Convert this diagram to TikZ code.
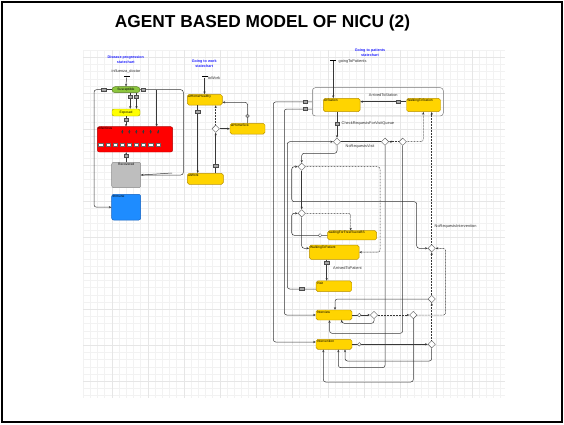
\documentclass[tikz,border=0pt]{standalone}
\usepackage{fontspec}
\setmainfont{Liberation Sans}
\usetikzlibrary{shapes.geometric,arrows.meta,calc}
\definecolor{styel}{HTML}{FFD400}
\definecolor{styelD}{HTML}{B89000}
\definecolor{stgreen}{HTML}{8CC63E}
\definecolor{stgreenD}{HTML}{557A1E}
\definecolor{stexp}{HTML}{FFFF00}
\definecolor{stexpD}{HTML}{A0A000}
\definecolor{stred}{HTML}{FF0000}
\definecolor{stredD}{HTML}{B00000}
\definecolor{stgray}{HTML}{BEBEBE}
\definecolor{stgrayD}{HTML}{8A8A8A}
\definecolor{stblue}{HTML}{1E8CFF}
\definecolor{stblueD}{HTML}{1060C0}
\definecolor{ttlblue}{HTML}{2222FF}
\definecolor{gmin}{HTML}{F2F2F2}
\definecolor{gmaj}{HTML}{E6E6E6}
\begin{document}
\begin{tikzpicture}[x=1pt,y=-1pt,
  st/.style={draw=styelD, fill=styel, rounded corners=1.8pt, line width=0.45pt, inner sep=0pt},
  lbl/.style={font=\fontsize{3.3}{3.6}\selectfont, inner sep=0.9pt},
  small/.style={font=\fontsize{3.9}{4.2}\selectfont, inner sep=0pt, text=black!80},
  ttl/.style={font=\bfseries\fontsize{3.7}{4.6}\selectfont, text=ttlblue, align=center, inner sep=0pt},
  tr/.style={draw=black!78, line width=0.5pt, rounded corners=2.5pt},
  arr/.style={-{Stealth[length=2.6pt,width=2.2pt]}},
  darr/.style={{Stealth[length=2.6pt,width=2.2pt]}-{Stealth[length=2.6pt,width=2.2pt]}},
  dots/.style={dash pattern=on 0.8pt off 0.7pt},
  br/.style={diamond, draw=black!65, fill=white, line width=0.4pt, minimum width=7.5pt, minimum height=7.5pt, inner sep=0pt},
  mk/.style={draw=black!70, fill=black!35, minimum width=4.2pt, minimum height=3.2pt, inner sep=0pt, line width=0.3pt},
  tmo/.style={circle, draw=black!70, fill=white, minimum size=3.6pt, inner sep=0pt, line width=0.35pt},
  initbar/.style={fill=black, minimum width=6pt, minimum height=1.1pt, inner sep=0pt},
  wbox/.style={draw=black!60, fill=white, minimum width=4.5pt, minimum height=3.2pt, inner sep=0pt, line width=0.25pt}
]
\useasboundingbox (0,0) rectangle (564,424);
% grid
\foreach \i in {0,...,58} {\draw[gmin, line width=0.35pt] ({83+7.2*\i},50) -- ({83+7.2*\i},398);}
\foreach \j in {0,...,48} {\draw[gmin, line width=0.35pt] (83,{50+7.2*\j}) -- (505,{50+7.2*\j});}
\foreach \i in {0,...,10} {\draw[gmaj, line width=0.35pt] ({111.7+36*\i},50) -- ({111.7+36*\i},398);}
\foreach \j in {0,...,9} {\draw[gmaj, line width=0.35pt] (83,{57.2+36*\j}) -- (505,{57.2+36*\j});}
% frame and title
\draw[line width=2.2pt] (2.1,2.1) rectangle (561.9,421.9);
\node[font=\bfseries\fontsize{17.3}{19}\selectfont] (title) at (262.5,23.5) {AGENT BASED MODEL OF NICU (2)};

% ---------------- Disease progression ----------------
\node[ttl] (tL) at (125.8,59.7) {Disease progression\\statechart};
\node[small] (lbInf) at (126,71.7) {influenza\_doctor};
\node[initbar] (iL) at (126.5,76.8) {};
\node[draw=stgreenD, fill=stgreen, rounded corners=3pt, minimum width=28pt, minimum height=6pt, inner sep=0pt, line width=0.45pt, font=\fontsize{3.3}{3.6}\selectfont] (Sus) at (126,89.7) {Susceptible};
\node[draw=stexpD, fill=stexp, rounded corners=2pt, minimum width=28pt, minimum height=7pt, inner sep=0pt, line width=0.45pt, font=\fontsize{3.3}{3.6}\selectfont] (Exp) at (126,112.5) {Exposed};
\node[draw=stredD, fill=stred, rounded corners=2pt, minimum width=75.4pt, minimum height=25.3pt, inner sep=0pt, line width=0.45pt,
  label={[lbl,anchor=north west]north west:Infectious}] (Inf) at (135,139.35) {};
\node[draw=stgrayD, fill=stgray, rounded corners=2pt, minimum width=29pt, minimum height=25.4pt, inner sep=0pt, line width=0.45pt,
  label={[lbl,anchor=north]north:Recovered}] (Rec) at (126.2,175) {};
\node[draw=stblueD, fill=stblue, rounded corners=2pt, minimum width=29pt, minimum height=25.7pt, inner sep=0pt, line width=0.45pt,
  label={[lbl,anchor=north west]north west:Immune}] (Imm) at (126.2,207.2) {};
\foreach \k/\xx in {1/100.7,2/108.3,3/115.3,4/122.3,5/129.3,6/136.3,7/143.3,8/150.7,9/158} {
  \node[wbox] (ib\k) at (\xx,144.3) {};
}
\foreach \k/\xx in {4/122.3,5/129.3,6/136.3,7/143.3,8/150.7,9/158} {
  \draw[tr,arr] (\xx,129.5) -- (\xx,133.8);
}
\draw[tr,arr] (iL) -- (Sus.north);
\draw[tr] (Sus.west) -- (103.7,89.7);
\draw[tr,arr] (103.7,89.7) -- (94,89.7) |- (Imm.west);
\draw[tr] (Sus.east) -- (183.3,89.7) |- (Rec.east);
\draw[tr,arr] (172,173) -- (Rec.east);
\draw[tr,arr] (156.7,89.7) -- (156.7,89.7 |- Inf.north);
\draw[tr,arr] (130.2,89.7 |- Sus.south) -- (130.2,0 |- Exp.north);
\draw[tr,arr] (136.5,89.7 |- Sus.south) -- (136.5,0 |- Exp.north);
\draw[tr,arr] (Exp.south) -- (Inf.north -| Exp.south);
\draw[tr,arr] (Rec.north) -- (Rec.north |- Inf.south);
\node[mk] (mS1) at (103.7,89.7) {};
\node[mk] (mS2) at (143.3,89.7) {};
\node[mk] (mSE1) at (130.2,96.7) {};
\node[mk] (mSE2) at (136.5,96.7) {};
\node[mk] (mE) at (126,120) {};
\node[mk] (mI) at (126,156) {};

% ---------------- Going to work ----------------
\node[ttl] (tW) at (204.2,63.8) {Going to work\\statechart};
\node[initbar] (iW) at (204.5,76.8) {};
\node[small, anchor=west] (lbW) at (207.6,78.3) {toWork};
\node[st, minimum width=35pt, minimum height=10.7pt, label={[lbl,anchor=north west]north west:atHomeHealthy}] (aHH) at (204.8,99.7) {};
\node[st, minimum width=35pt, minimum height=10.7pt, label={[lbl,anchor=north west]north west:atHomeSick}] (aHS) at (247.5,128.7) {};
\node[st, minimum width=36pt, minimum height=11pt, label={[lbl,anchor=north west]north west:atWork}] (aW) at (205.3,178.8) {};
\node[br] (DW) at (215.7,128.7) {};
\draw[tr,arr] (iW) -- (iW |- aHH.north);
\draw[tr,arr] (197.7,0 |- aHH.south) -- (197.7,0 |- aW.north);
\draw[tr,arr] (DW |- aW.north) -- (DW.south);
\draw[tr,dots,arr] (DW.north) -- (DW |- aHH.south);
\draw[tr,arr] (DW.east) -- (aHS.west);
\draw[tr,arr] (aHS.north) |- ([yshift=-2.6pt]aHH.east);
\node[mk] (mHW) at (197.7,111.7) {};
\node[mk] (mWD) at (215.7,165.7) {};
\node[tmo, fill=black!30] (mSH) at (247.5,116) {};

% ---------------- Going to patients ----------------
\node[ttl] (tP) at (370,52.8) {Going to patients\\statechart};
\node[initbar] (iP) at (333.3,60.2) {};
\node[small, anchor=west] (lbP) at (338.5,61.7) {goingToPatients};
\node[draw=black!55, rounded corners=3pt, line width=0.45pt, minimum width=131pt, minimum height=28.3pt, inner sep=0pt] (Cont) at (377.8,101.85) {};
\node[st, minimum width=36.7pt, minimum height=13.4pt, label={[lbl,anchor=north west]north west:AtStation}] (AtS) at (341.7,105) {};
\node[st, minimum width=34pt, minimum height=13.4pt, label={[lbl,anchor=north west]north west:WalkingToStation}] (WtS) at (423.5,105) {};
\node[st, minimum width=49.7pt, minimum height=14.3pt, label={[lbl,anchor=north west]north west:WalkingToPatient}] (WtP) at (334.2,252.2) {};
\node[st, minimum width=49pt, minimum height=9.3pt, label={[lbl,anchor=north west]north west:waitingForFreeFluenzBS}] (wF) at (352.2,235.3) {};
\node[st, minimum width=35.7pt, minimum height=10.7pt, label={[lbl,anchor=north west]north west:Visit}] (Vis) at (333.9,286.3) {};
\node[st, minimum width=36pt, minimum height=10pt, label={[lbl,anchor=north west]north west:Interview}] (Itw) at (334,315) {};
\node[st, minimum width=36pt, minimum height=10pt, label={[lbl,anchor=north west]north west:Intervention}] (Itv) at (334,344.3) {};
\node[br] (D1) at (337,141.7) {};
\node[br] (D2) at (385,141.7) {};
\node[br] (D3) at (402.7,141.7) {};
\node[br] (D4) at (301.7,166.7) {};
\node[br] (D5) at (301.7,213.3) {};
\node[br] (DI1) at (374,315) {};
\node[br] (DI2) at (413.3,315) {};
\node[br] (DR1) at (431.7,248.3) {};
\node[br] (DR2) at (431.7,299) {};
\node[br] (DR3) at (431.7,344.3) {};

\draw[tr,arr] (iP) -- (iP |- AtS.north);
\draw[tr,arr] ([yshift=3.3pt]WtS.west) -- ([yshift=3.3pt]AtS.east);
\draw[tr,arr] (Cont.west) -- (273.3,101.85) -- (273.3,342) -- ([yshift=2.3pt]Itv.west);
\draw[tr,arr] ([yshift=-7.2pt]Cont.west) -- (284.3,109) -- (284.3,315) -- (Itw.west);
\draw[tr,arr] (D1 |- AtS.south) -- (D1.north);
\draw[tr,arr] (D1.south) |- (301.7,153.3) -- (D4.north);
\draw[tr] (D1.east) -- (D2.west);
\draw[tr,dots,arr] (D3.west) -- (D2.east);
\draw[tr,dots,arr] (D3.east) -- (423.3,141.7) -- (423.3,0 |- WtS.south);
\draw[tr,dots,arr] (DR1.north) -- (DR1 |- WtS.south);
\draw[tr,arr] (D2.south) -- (385,367.7) -- (338.3,367.7) -- (338.3,0 |- Itv.south);
\draw[tr,arr] (D3.south) -- (402.7,333.3) -- (329.5,333.3) -- (329.5,0 |- Itw.south);
\draw[tr,dots,arr] (D4.east) -- (380,166.7) |- (WtP.east);
\draw[tr,darr] (D4.west) -- (291.7,166.7) -- (291.7,201.7) -- (416.7,201.7) |- (DR1.west);
\draw[tr,arr] (D4.south) -- (D5.north);
\draw[tr,dots,arr] (D5.east) -- (350.7,213.3) -- (350.7,0 |- wF.north);
\draw[tr,arr] (D5.south) |- ([yshift=3.9pt]WtP.west);
\draw[tr,arr] (wF.west) -- (291.7,235.3) -- (291.7,213.3) -- (D5.west);
\draw[tr,arr] (326.7,0 |- WtP.south) -- (326.7,0 |- Vis.north);
\draw[tr,arr] ([yshift=-2.7pt]Vis.west) -- (287.3,289) -- (287.3,141.7) -- (D1.west);
\draw[tr,arr] (Itw.east) -- (DI1.west);
\draw[tr,dots,arr] (DI1.east) -- (DI2.west);
\draw[tr,arr] (DI1.south) -- (374,323.3) -- (341.7,323.3) -- (341.7,0 |- Itw.south);
\draw[tr,dots,arr] (DI2.east) -- (445.7,315) -- (445.7,248.3) -- (DR1.east);
\draw[tr,arr] (DI2.south) -- (413.3,382) -- (323.3,382) -- (323.3,0 |- Itv.south);
\draw[tr,arr] (DR2.west) -- (335,299) -- (335,0 |- Itw.north);
\draw[tr,arr] (Itv.east) -- (DR3.west);
\draw[tr,arr] (DR3.south) -- (431.7,361) -- (345,361) -- (345,0 |- Itv.south);
\draw[tr,dots,arr] (DR2.north) -- (DR1.south);
\draw[tr,dots,arr] (DR3.north) -- (DR2.south);

\node[mk] (mArr) at (398.3,101.7) {};
\node[mk] (mC1) at (305,101.85) {};
\node[mk] (mC2) at (305,109) {};
\node[mk] (mCk) at (337,123.3) {};
\node[mk] (mWV) at (326.7,263) {};
\node[mk] (mV) at (301.7,289) {};
\node[tmo] (tWF) at (320,235.3) {};
\node[tmo] (tItw) at (359.3,315) {};
\node[tmo] (tItv) at (359.3,344.3) {};

\node[small] (lbArr) at (383.3,95.5) {ArrivedToStation};
\node[small, anchor=west] (lbCk) at (341.5,123.3) {CheckRequestsForVisitQueue};
\node[small, anchor=west] (lbNV) at (345.5,146.5) {NoRequestsVisit};
\node[small, anchor=west] (lbAP) at (333,267.7) {ArrivedToPatient};
\node[small, anchor=west] (lbNI) at (434.5,226.7) {NoRequestsIntervention};
\end{tikzpicture}
\end{document}
